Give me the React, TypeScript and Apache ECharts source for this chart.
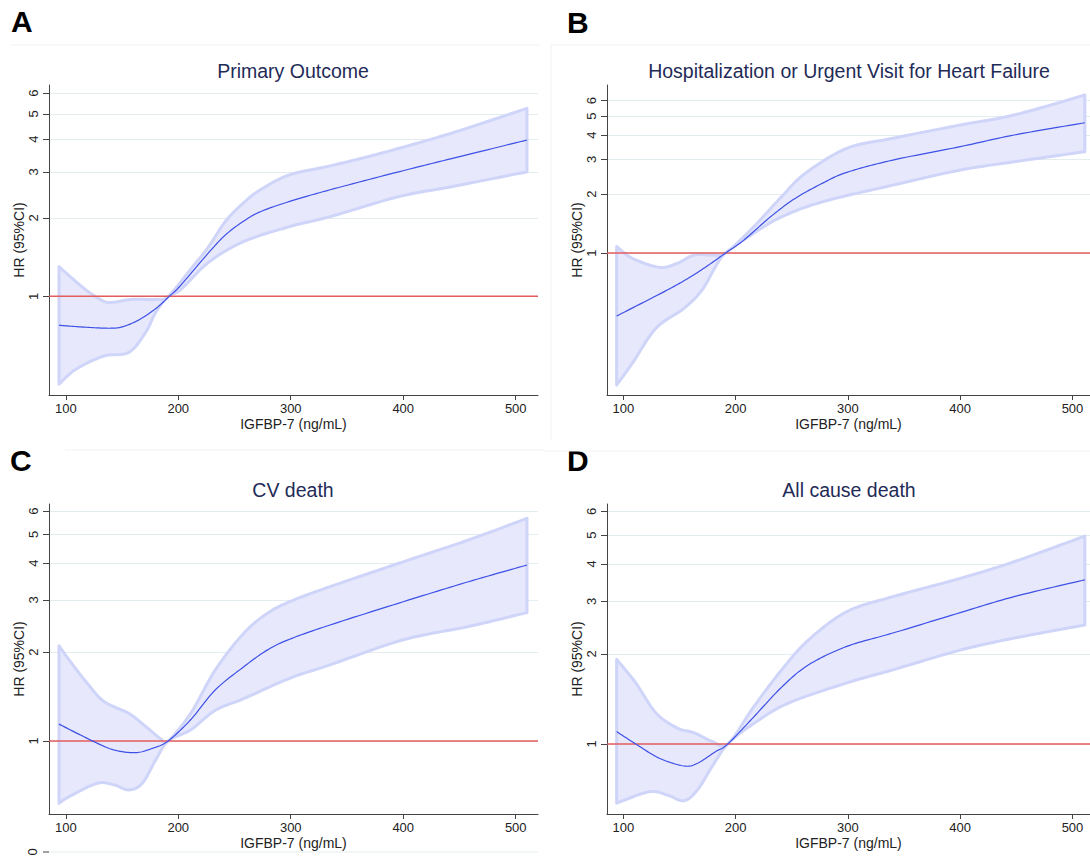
import { useEffect, useRef } from "react";
import * as echarts from "echarts";

// ---------- texts ----------
const panelLetters = ["A", "B", "C", "D"];
const panelTitles = [
  "Primary Outcome",
  "Hospitalization or Urgent Visit for Heart Failure",
  "CV death",
  "All cause death",
];
const xName = "IGFBP-7 (ng/mL)";
const yName = "HR (95%CI)";
const xTicks = [100, 200, 300, 400, 500];
const yTicks = [1, 2, 3, 4, 5, 6];
const referenceHR = 1;

// ---------- Panel A : Primary Outcome ----------
const aCenterX = [94, 115, 139, 151, 166, 181, 192, 202, 227, 242, 258, 273, 299, 335, 396, 443, 510];
const aCenterHR = [0.775, 0.763, 0.755, 0.766, 0.817, 0.905, 1.0, 1.1, 1.47, 1.72, 1.94, 2.11, 2.31, 2.56, 3.0, 3.37, 3.97];
const aUpperX = [94, 104, 119, 134, 143, 159, 180, 191, 211, 227, 242, 258, 273, 299, 335, 381, 443, 510];
const aUpperHR = [1.3, 1.19, 1.05, 0.957, 0.95, 0.974, 0.974, 1.0, 1.27, 1.55, 1.94, 2.28, 2.56, 2.92, 3.16, 3.54, 4.22, 5.25];
const aLowerX = [94, 109, 134, 156, 171, 180, 191, 202, 227, 258, 299, 335, 396, 443, 510];
const aLowerHR = [0.461, 0.526, 0.591, 0.61, 0.728, 0.869, 1.0, 1.06, 1.35, 1.62, 1.85, 2.02, 2.41, 2.63, 3.0];

// ---------- Panel B : Hospitalization / urgent visit for HF ----------
const bCenterX = [94, 139, 160, 176, 191, 207, 231, 253, 278, 299, 340, 400, 448, 511];
const bCenterHR = [0.477, 0.647, 0.757, 0.869, 1.0, 1.16, 1.53, 1.9, 2.28, 2.58, 2.98, 3.49, 4.0, 4.62];
const bUpperX = [94, 108, 132, 148, 163, 179, 191, 216, 241, 262, 299, 340, 400, 448, 511];
const bUpperHR = [1.08, 0.94, 0.845, 0.886, 0.977, 0.977, 1.0, 1.36, 1.94, 2.55, 3.42, 3.85, 4.5, 5.06, 6.4];
const bLowerX = [94, 108, 129, 154, 170, 182, 191, 216, 241, 278, 340, 400, 448, 511];
const bLowerHR = [0.212, 0.274, 0.413, 0.522, 0.647, 0.851, 1.0, 1.26, 1.53, 1.83, 2.22, 2.65, 2.92, 3.29];

// ---------- Panel C : CV death ----------
const cCenterX = [94, 125, 143, 162, 177, 191, 211, 233, 258, 279, 299, 335, 400, 458, 510];
const cCenterHR = [1.14, 0.995, 0.932, 0.913, 0.944, 1.0, 1.18, 1.49, 1.78, 2.03, 2.21, 2.47, 2.96, 3.46, 3.94];
const cUpperX = [94, 103, 119, 134, 156, 171, 184, 191, 211, 233, 258, 279, 299, 335, 400, 458, 510];
const cUpperHR = [2.1, 1.88, 1.57, 1.36, 1.24, 1.12, 1.02, 1.0, 1.24, 1.74, 2.31, 2.7, 2.96, 3.33, 4.04, 4.79, 5.67];
const cLowerX = [94, 103, 128, 143, 156, 168, 180, 191, 211, 233, 258, 299, 335, 400, 458, 510];
const cLowerHR = [0.615, 0.648, 0.719, 0.71, 0.683, 0.719, 0.863, 1.0, 1.09, 1.27, 1.39, 1.63, 1.81, 2.2, 2.44, 2.72];

// ---------- Panel D : All cause death ----------
const dCenterX = [94, 111, 132, 154, 166, 182, 193, 216, 241, 265, 299, 340, 400, 448, 511];
const dCenterHR = [1.1, 1.0, 0.896, 0.844, 0.862, 0.942, 1.0, 1.23, 1.55, 1.84, 2.12, 2.35, 2.75, 3.11, 3.54];
const dUpperX = [94, 111, 129, 148, 163, 179, 193, 216, 241, 265, 299, 340, 400, 448, 511];
const dUpperHR = [1.92, 1.6, 1.27, 1.13, 1.09, 1.02, 1.0, 1.33, 1.77, 2.23, 2.77, 3.11, 3.58, 4.07, 4.96];
const dLowerX = [94, 123, 139, 154, 166, 179, 193, 216, 247, 299, 340, 400, 448, 511];
const dLowerHR = [0.634, 0.692, 0.675, 0.646, 0.702, 0.84, 1.0, 1.17, 1.37, 1.6, 1.77, 2.06, 2.26, 2.5];

// axis ranges (x in ng/mL, y in HR)
const xRanges = [
  [85.1, 519.8],
  [85.4, 515.6],
  [85.1, 519.8],
  [85.4, 515.6],
];
const yRanges = [
  [0.419, 6.45],
  [0.1886, 7.2],
  [0.566, 6.34],
  [0.583, 6.35],
];

const panelData = [
  { cx: aCenterX, cy: aCenterHR, ux: aUpperX, uy: aUpperHR, lx: aLowerX, ly: aLowerHR },
  { cx: bCenterX, cy: bCenterHR, ux: bUpperX, uy: bUpperHR, lx: bLowerX, ly: bLowerHR },
  { cx: cCenterX, cy: cCenterHR, ux: cUpperX, uy: cUpperHR, lx: cLowerX, ly: cLowerHR },
  { cx: dCenterX, cy: dCenterHR, ux: dUpperX, uy: dUpperHR, lx: dLowerX, ly: dLowerHR },
];

// ---------- layout ----------
const grids = [
  { left: 49, top: 85, width: 489, height: 310 },
  { left: 607, top: 85, width: 483, height: 310 },
  { left: 49, top: 504, width: 489, height: 310 },
  { left: 607, top: 504, width: 483, height: 310 },
];
const titlePos = [
  [293, 71],
  [849, 71],
  [293, 490],
  [849, 490],
];
const letterPos = [
  [11, 21],
  [567, 22],
  [10, 460],
  [567, 460],
];

const FONT = "'Liberation Sans', Arial, Helvetica, sans-serif";
const lg = (v: number) => Math.log10(v);

// Catmull-Rom through pixel points, used only to draw curves smoothly
function splinePx(pts: number[][], seg = 14): number[][] {
  const out: number[][] = [];
  const n = pts.length;
  for (let i = 0; i < n - 1; i++) {
    const p0 = pts[Math.max(i - 1, 0)];
    const p1 = pts[i];
    const p2 = pts[i + 1];
    const p3 = pts[Math.min(i + 2, n - 1)];
    for (let t = 0; t < seg; t++) {
      const s = t / seg;
      const s2 = s * s;
      const s3 = s2 * s;
      const f = (k: number) =>
        0.5 *
        (2 * p1[k] +
          (-p0[k] + p2[k]) * s +
          (2 * p0[k] - 5 * p1[k] + 4 * p2[k] - p3[k]) * s2 +
          (-p0[k] + 3 * p1[k] - 3 * p2[k] + p3[k]) * s3);
      out.push([f(0), f(1)]);
    }
  }
  out.push(pts[n - 1]);
  return out;
}

export default function App() {
  const ref = useRef<HTMLDivElement>(null);

  useEffect(() => {
    if (!ref.current) return;
    const chart = echarts.init(ref.current, null, { renderer: "svg" });

    const xAxis = grids.map((_, i) => ({
      type: "value",
      gridIndex: i,
      min: xRanges[i][0],
      max: xRanges[i][1],
      axisLine: { show: true, onZero: false, lineStyle: { color: "#444", width: 1 } },
      axisTick: { show: true, customValues: xTicks, length: 5, lineStyle: { color: "#444" } },
      axisLabel: { customValues: xTicks, fontSize: 13, color: "#222", margin: 7, fontFamily: FONT },
      splitLine: { show: false },
      name: xName,
      nameLocation: "middle",
      nameGap: 22,
      nameTextStyle: { fontSize: 14, color: "#222", fontFamily: FONT },
    }));

    const yAxis = grids.map((_, i) => ({
      type: "value",
      gridIndex: i,
      min: lg(yRanges[i][0]),
      max: lg(yRanges[i][1]),
      axisLine: { show: true, onZero: false, lineStyle: { color: "#444", width: 1 } },
      axisTick: { show: true, customValues: yTicks.map(lg), length: 6, lineStyle: { color: "#444" } },
      axisLabel: {
        customValues: yTicks.map(lg),
        formatter: (v: number) => String(Math.round(Math.pow(10, v))),
        rotate: 90,
        fontSize: 13,
        color: "#222",
        margin: 9,
        fontFamily: FONT,
      },
      splitLine: { show: true, lineStyle: { color: "#e3ecef", width: 1 } },
      name: yName,
      nameLocation: "middle",
      nameRotate: 90,
      nameGap: 23,
      nameTextStyle: { fontSize: 14, color: "#222", fontFamily: FONT },
    }));

    const series: any[] = [];
    panelData.forEach((p, i) => {
      // 95% CI band
      series.push({
        type: "custom",
        name: "CI " + panelLetters[i],
        xAxisIndex: i,
        yAxisIndex: i,
        silent: true,
        z: 1,
        data: p.ux.map((x, k) => [x, lg(p.uy[k])]),
        renderItem: (params: any, api: any) => {
          if (params.dataIndex !== 0) return null;
          const up = p.ux.map((x, k) => api.coord([x, lg(p.uy[k])]));
          const lo = p.lx.map((x, k) => api.coord([x, lg(p.ly[k])]));
          const pts = splinePx(up).concat(splinePx(lo).reverse());
          return {
            type: "polygon",
            shape: { points: pts },
            style: { fill: "#e7e8fc", stroke: "#cfd4f9", lineWidth: 3, lineJoin: "round" },
          };
        },
      });
      // reference line HR = 1 and HR curve
      series.push({
        type: "custom",
        name: "HR " + panelLetters[i],
        xAxisIndex: i,
        yAxisIndex: i,
        silent: true,
        z: 3,
        data: p.cx.map((x, k) => [x, lg(p.cy[k])]),
        renderItem: (params: any, api: any) => {
          if (params.dataIndex !== 0) return null;
          const r0 = api.coord([xRanges[i][0], lg(referenceHR)]);
          const r1 = api.coord([xRanges[i][1], lg(referenceHR)]);
          const c = p.cx.map((x, k) => api.coord([x, lg(p.cy[k])]));
          return {
            type: "group",
            children: [
              {
                type: "line",
                shape: { x1: r0[0], y1: r0[1], x2: r1[0], y2: r1[1] },
                style: { stroke: "#e35d5d", lineWidth: 1.5 },
              },
              {
                type: "polyline",
                shape: { points: splinePx(c) },
                style: { stroke: "#3d50e6", lineWidth: 1.2, fill: "none", lineJoin: "round" },
              },
            ],
          };
        },
      });
    });

    const graphic: any[] = [];
    panelTitles.forEach((t, i) => {
      graphic.push({
        type: "text",
        x: titlePos[i][0],
        y: titlePos[i][1],
        silent: true,
        style: {
          text: t,
          fontSize: 19.5,
          fontFamily: FONT,
          fill: "#1f2b57",
          align: "center",
          verticalAlign: "middle",
        },
      });
    });
    panelLetters.forEach((t, i) => {
      graphic.push({
        type: "text",
        x: letterPos[i][0],
        y: letterPos[i][1],
        silent: true,
        style: {
          text: t,
          fontSize: 30,
          fontWeight: "bold",
          fontFamily: FONT,
          fill: "#000",
          align: "left",
          verticalAlign: "middle",
        },
      });
    });
    // faint panel separators
    const faint = { stroke: "#f1f2f3", lineWidth: 1 };
    graphic.push({ type: "line", silent: true, shape: { x1: 10, y1: 45, x2: 540, y2: 45 }, style: faint });
    graphic.push({ type: "line", silent: true, shape: { x1: 551, y1: 45, x2: 1090, y2: 45 }, style: faint });
    graphic.push({ type: "line", silent: true, shape: { x1: 551, y1: 45, x2: 551, y2: 440 }, style: faint });
    graphic.push({ type: "line", silent: true, shape: { x1: 65, y1: 450, x2: 545, y2: 450 }, style: faint });
    graphic.push({ type: "line", silent: true, shape: { x1: 545, y1: 451, x2: 1090, y2: 451 }, style: faint });
    // stray "0" tick from the underlying figure at the bottom left
    graphic.push({ type: "line", silent: true, shape: { x1: 49, y1: 852, x2: 538, y2: 852 }, style: { stroke: "#e8eef0", lineWidth: 1 } });
    graphic.push({ type: "line", silent: true, shape: { x1: 43, y1: 852, x2: 49, y2: 852 }, style: { stroke: "#444", lineWidth: 1 } });
    graphic.push({
      type: "text",
      x: 32,
      y: 852,
      rotation: Math.PI / 2,
      silent: true,
      style: { text: "0", fontSize: 13, fontFamily: FONT, fill: "#222", align: "center", verticalAlign: "middle" },
    });

    chart.setOption({
      animation: false,
      backgroundColor: "#ffffff",
      textStyle: { fontFamily: FONT },
      grid: grids.map((g) => ({ ...g, containLabel: false })),
      xAxis,
      yAxis,
      series,
      graphic,
    });

    return () => chart.dispose();
  }, []);

  return (
    <div
      ref={ref}
      style={{ position: "absolute", left: 0, top: 0, width: 1090, height: 858, background: "#fff" }}
    />
  );
}
